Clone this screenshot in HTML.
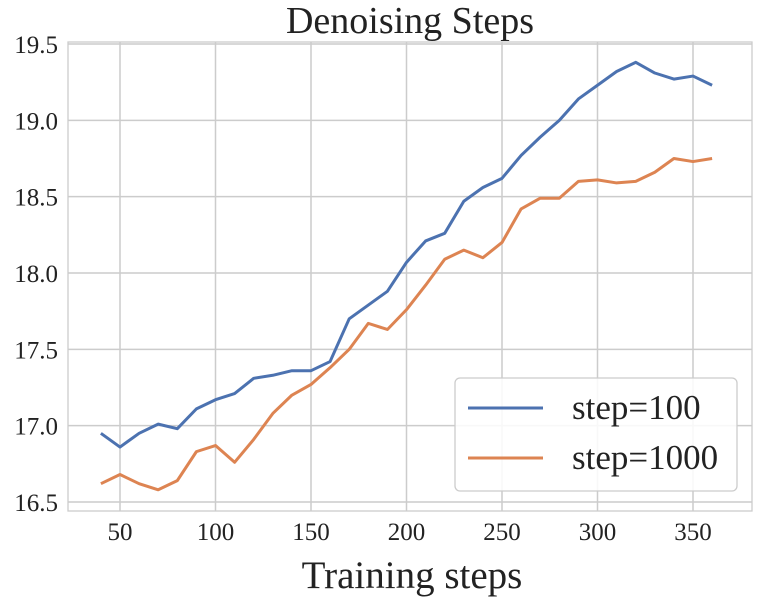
<!DOCTYPE html>
<html><head><meta charset="utf-8"><style>
body{margin:0;background:#fff}
svg text{font-family:"Liberation Serif",serif;fill:#222}
</style></head><body>
<svg id="chart" width="763" height="601" xmlns="http://www.w3.org/2000/svg">
<text x="410" y="33" font-size="38" text-anchor="middle">Denoising Steps</text>
<text x="412" y="588" font-size="39" text-anchor="middle">Training steps</text>
<g id="grid"></g><g id="ticks"></g><g id="series"></g>
<rect x="68" y="42" width="684" height="469" fill="none" stroke="#ccc" stroke-width="1.3"/>
<g>
<rect x="455" y="378" width="282" height="113" rx="5" fill="#fff" fill-opacity="0.85" stroke="#ccc" stroke-width="1.3"/>
<line x1="468" y1="408" x2="543" y2="408" stroke="#4c72b0" stroke-width="3"/>
<text x="572" y="419" font-size="35">step=100</text>
<line x1="468" y1="458" x2="543" y2="458" stroke="#dd8452" stroke-width="3"/>
<text x="572" y="469" font-size="35">step=1000</text>
</g>
</svg>
<script>
const steps=[40,50,60,70,80,90,100,110,120,130,140,150,160,170,180,190,200,210,220,230,240,250,260,270,280,290,300,310,320,330,340,350,360];
const step100=[16.95,16.86,16.95,17.01,16.98,17.11,17.17,17.21,17.31,17.33,17.36,17.36,17.42,17.70,17.79,17.88,18.07,18.21,18.26,18.47,18.56,18.62,18.77,18.89,19.00,19.14,19.23,19.32,19.38,19.31,19.27,19.29,19.23];
const step1000=[16.62,16.68,16.62,16.58,16.64,16.83,16.87,16.76,16.91,17.08,17.20,17.27,17.38,17.50,17.67,17.63,17.76,17.92,18.09,18.15,18.10,18.20,18.42,18.49,18.49,18.60,18.61,18.59,18.60,18.66,18.75,18.73,18.75];
const xTicks=[50,100,150,200,250,300,350];
const yTicks=[16.5,17.0,17.5,18.0,18.5,19.0,19.5];
const NS="http://www.w3.org/2000/svg";
function X(v){return 120+(v-50)*(693-120)/300;}
function Y(v){return 502-(v-16.5)*(502-44)/3;}
function mk(t,a,p){const e=document.createElementNS(NS,t);for(const k in a)e.setAttribute(k,a[k]);p.appendChild(e);return e;}
const g=document.getElementById('grid'),tk=document.getElementById('ticks'),s=document.getElementById('series');
xTicks.forEach(v=>{
 const l=mk('line',{x1:X(v),x2:X(v),y1:42,y2:511,stroke:'#ccc','stroke-width':1.5},g);
 
 
 const t=mk('text',{x:X(v),y:540,'font-size':25,'text-anchor':'middle'},tk);t.textContent=v;
 
 
});
yTicks.forEach(v=>{
 const l=mk('line',{x1:68,x2:752,y1:Y(v),y2:Y(v),stroke:'#ccc','stroke-width':1.5},g);
 
 
 const t=mk('text',{x:58,y:Y(v)+9,'font-size':25,'text-anchor':'end'},tk);t.textContent=v.toFixed(1);
 
 
});
[[step100,'#4c72b0','series-step100'],[step1000,'#dd8452','series-step1000']].forEach(([d,c,n])=>{
 const p=mk('polyline',{points:steps.map((x,i)=>X(x)+','+Y(d[i])).join(' '),fill:'none',stroke:c,'stroke-width':3,'stroke-linejoin':'round'},s);
 
 
});
</script>
</body></html>
